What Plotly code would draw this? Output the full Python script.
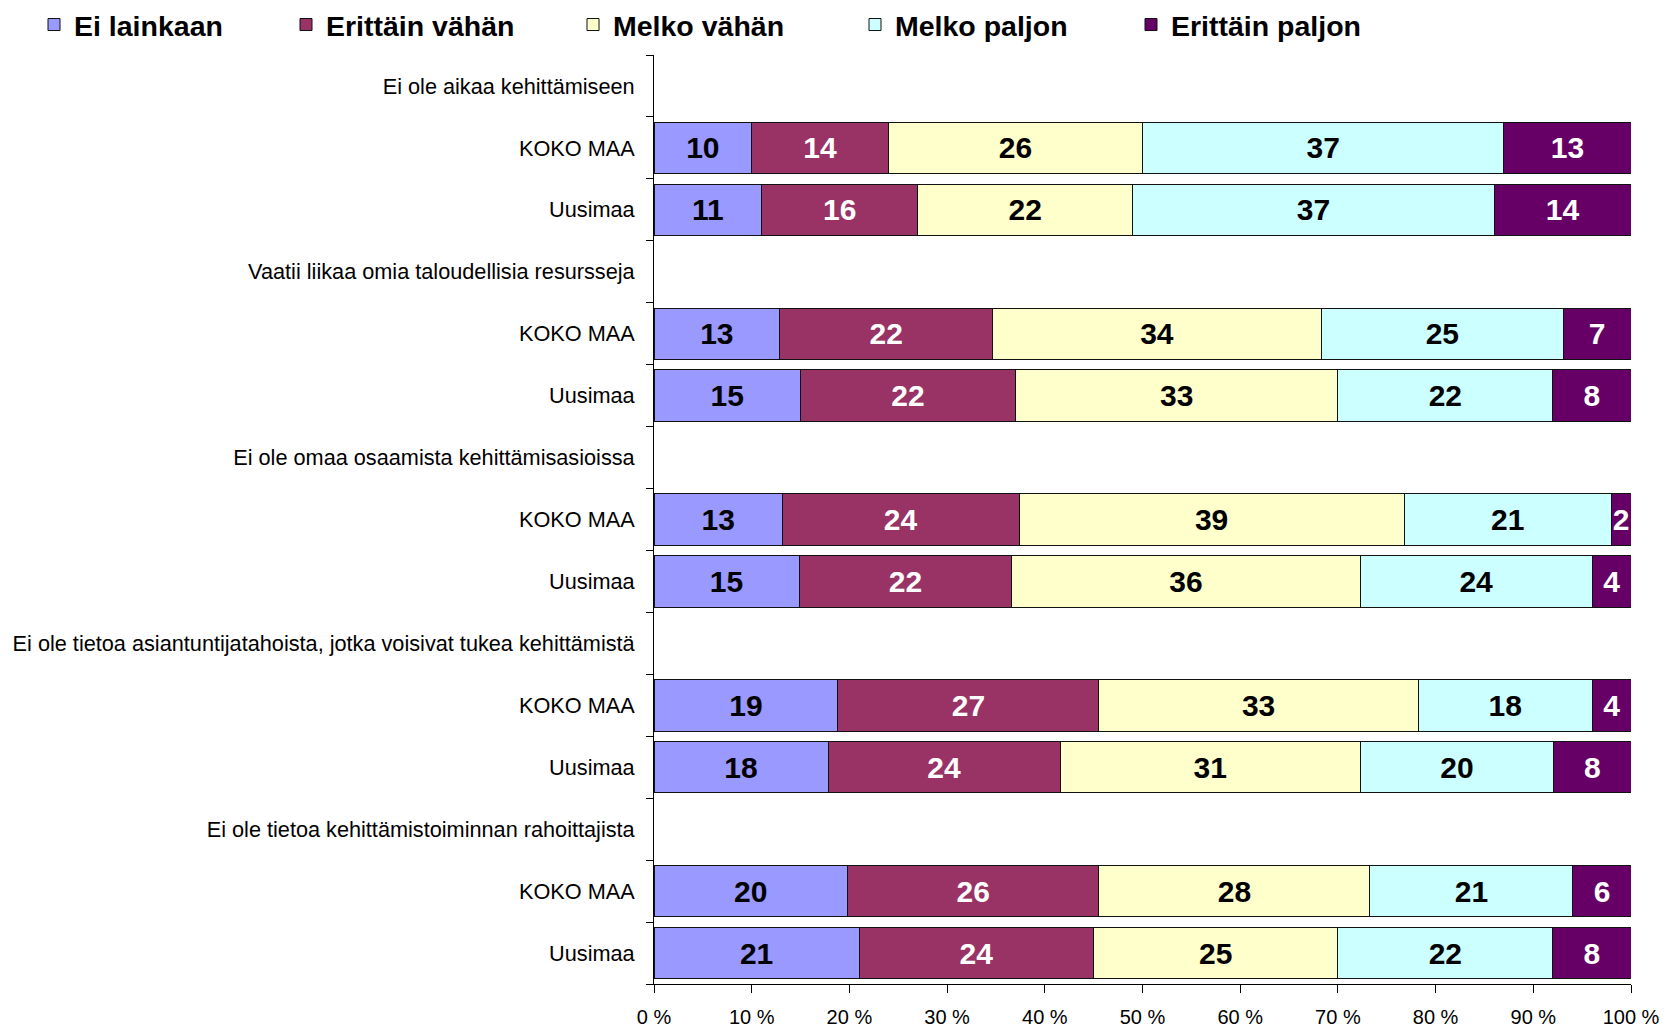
import plotly.graph_objects as go

groups = [
    "Ei ole aikaa kehittämiseen",
    "Vaatii liikaa omia taloudellisia resursseja",
    "Ei ole omaa osaamista kehittämisasioissa",
    "Ei ole tietoa asiantuntijatahoista, jotka voisivat tukea kehittämistä",
    "Ei ole tietoa kehittämistoiminnan rahoittajista",
]
regions = ["KOKO MAA", "Uusimaa"]

series_names = ["Ei lainkaan", "Erittäin vähän", "Melko vähän", "Melko paljon", "Erittäin paljon"]
ei_lainkaan = [10, 11, 13, 15, 13, 15, 19, 18, 20, 21]
erittain_vahan = [14, 16, 22, 22, 24, 22, 27, 24, 26, 24]
melko_vahan = [26, 22, 34, 33, 39, 36, 33, 31, 28, 25]
melko_paljon = [37, 37, 25, 22, 21, 24, 18, 20, 21, 22]
erittain_paljon = [13, 14, 7, 8, 2, 4, 4, 8, 6, 8]
series_values = [ei_lainkaan, erittain_vahan, melko_vahan, melko_paljon, erittain_paljon]

x_tick_vals = [0, 10, 20, 30, 40, 50, 60, 70, 80, 90, 100]
x_tick_text = [f"{v} %" for v in x_tick_vals]

colors = ["#9999FF", "#993366", "#FFFFCC", "#CCFFFF", "#660066"]
text_colors = ["black", "white", "black", "black", "white"]

# slot layout: header, KOKO MAA, Uusimaa per group
tick_vals, tick_text, bar_pos = [], [], []
slot = 0
for g in groups:
    tick_vals.append(slot); tick_text.append(g); slot += 1
    for r in regions:
        tick_vals.append(slot); tick_text.append(r); bar_pos.append(slot); slot += 1
n_slots = slot

FONT = "Liberation Sans, Arial, sans-serif"
fig = go.Figure()
legend_text_x = [74, 326, 613, 895, 1171]
for i, (name, vals) in enumerate(zip(series_names, series_values)):
    lg = "legend" if i == 0 else f"legend{i+1}"
    fig.add_trace(go.Bar(
        x=vals, y=bar_pos, orientation="h", name=name,
        marker=dict(color=colors[i], line=dict(color="#111", width=1)),
        text=vals, texttemplate="%{text}", textposition="inside",
        insidetextanchor="middle", textangle=0,
        textfont=dict(color=text_colors[i], size=30, family=FONT, weight="bold"),
        width=0.83, legend=lg, hoverinfo="skip", showlegend=True,
    ))

layout_legends = {}
for i in range(5):
    key = "legend" if i == 0 else f"legend{i+1}"
    layout_legends[key] = dict(
        x=(legend_text_x[i] - 48) / 1668, y=1 - 17 / 1028, xref="container", yref="container",
        xanchor="left", yanchor="middle", orientation="h",
        font=dict(size=28.5, family=FONT, color="black", weight="bold"),
        bgcolor="rgba(0,0,0,0)",
    )

fig.update_layout(
    barmode="stack", barnorm="percent",
    width=1668, height=1028, showlegend=True,
    margin=dict(l=646, r=45, t=47, b=52, autoexpand=False),
    paper_bgcolor="white", plot_bgcolor="white",
    font=dict(family=FONT, color="black", size=21.7),
    uniformtext=dict(minsize=30, mode="show"),
    xaxis=dict(range=[0, 100], tickvals=x_tick_vals, ticktext=x_tick_text,
               showline=True, linecolor="black", linewidth=1,
               ticks="outside", ticklen=8, tickcolor="black",
               ticklabelstandoff=7,
               showgrid=False, zeroline=False, tickfont=dict(size=20)),
    yaxis=dict(range=[n_slots - 0.5, -0.5], tickvals=tick_vals, ticktext=tick_text,
               showline=True, linecolor="black", linewidth=1, ticks="",
               ticklabelstandoff=14, showgrid=False, zeroline=False,
               tickfont=dict(size=21.7),
               minor=dict(tickmode="linear", tick0=0.5, dtick=1, ticks="outside",
                          ticklen=7, tickcolor="black", showgrid=False)),
    **layout_legends,
)
fig.write_html("out.html")
